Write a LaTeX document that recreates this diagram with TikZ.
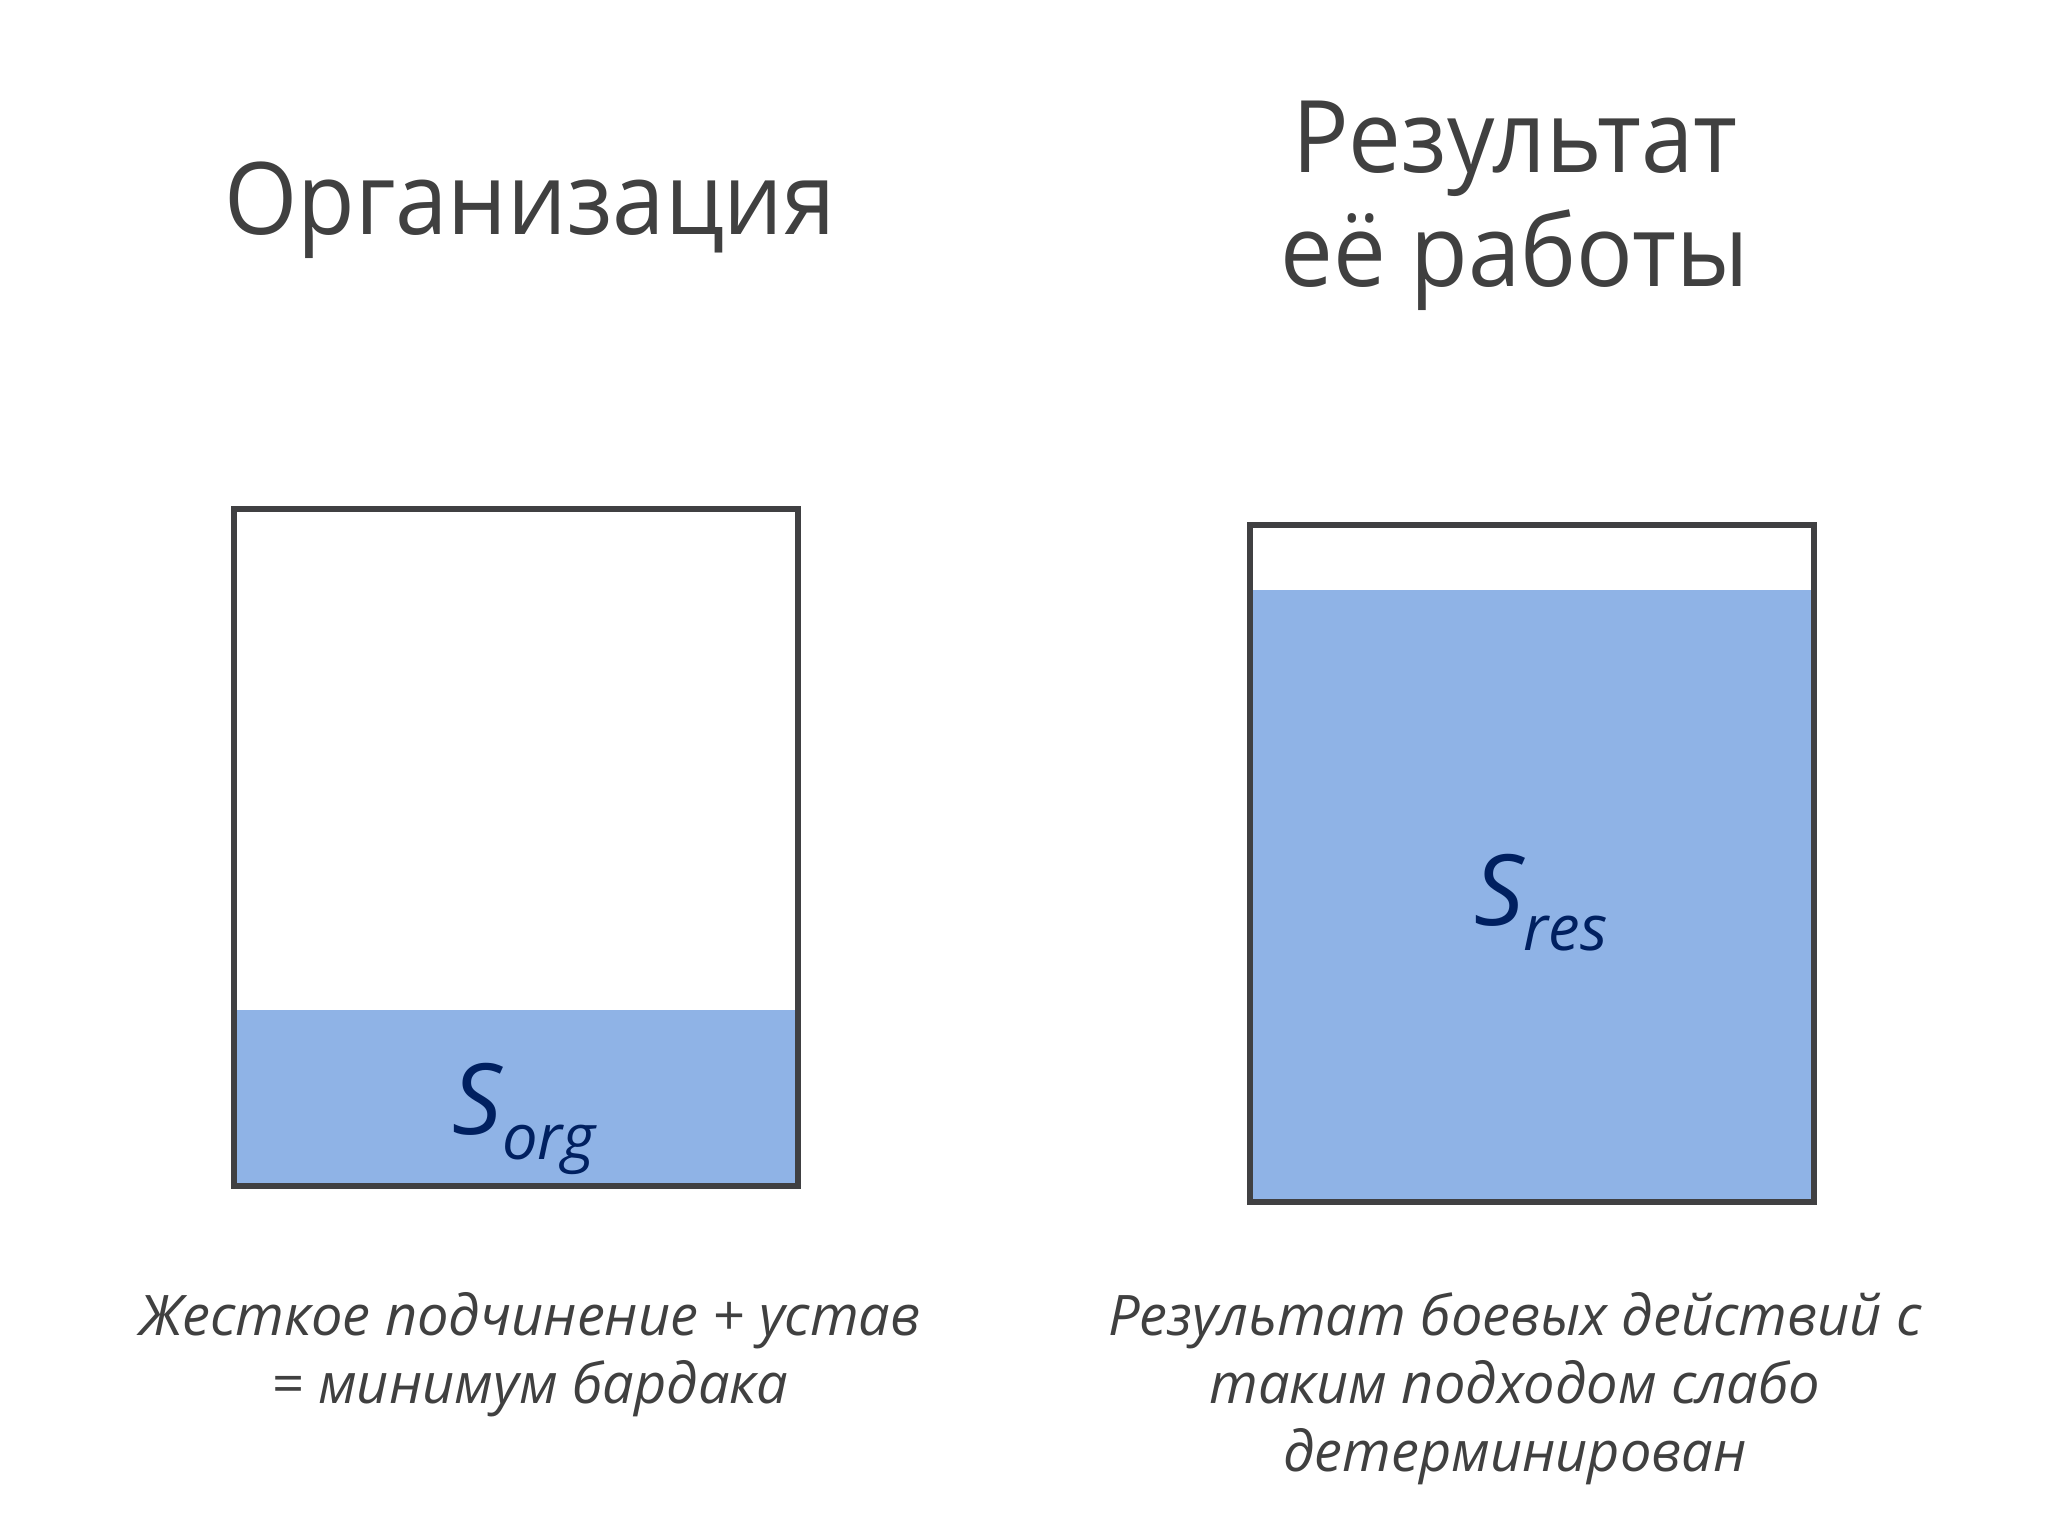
\documentclass[tikz,border=0pt]{standalone}
\usepackage{fontspec}
\setmainfont{Open Sans}
\newfontfamily\headingfont{Open Sans}[FakeStretch=0.94]
\usepackage{tikz}
\usetikzlibrary{calc,positioning}

\definecolor{textgray}{RGB}{64,64,64}
\definecolor{framegray}{RGB}{64,64,66}
\definecolor{levelblue}{RGB}{143,179,230}
\definecolor{labelnavy}{RGB}{0,32,96}

\begin{document}
\begin{tikzpicture}[
  thick,
  container/.style={
    rectangle,
    draw=framegray,
    line width=1.7pt,
    minimum height=67.7mm, minimum width=56.4mm,
    outer sep=0pt,
    inner sep=0pt
  },
  level/.style={
    rectangle,
    fill=levelblue,
    draw=none,
    minimum width=56.4mm,
    outer sep=0pt,
    inner sep=0pt
  },
  heading/.style={
    text=textgray,
    font=\headingfont\fontsize{28.5}{32.7}\selectfont,
    align=center,
    inner sep=0pt
  },
  caption/.style={
    text=textgray,
    font=\fontsize{15.9}{19.3}\selectfont\itshape,
    align=center,
    inner sep=0pt
  },
  measure/.style={
    text=labelnavy,
    font=\fontsize{28}{30}\selectfont\itshape,
    inner sep=0pt
  }
  ]
\useasboundingbox[fill=white] (0,0) rectangle (20.48,-15.36);
%\draw[help lines] (0,0) grid (20.48,-15.36);
% Organisation
\node [level, minimum height=17.6mm, anchor=south] (org level) at (5.16,-11.86) {};
\node [container] (org box) at (5.16,-8.475) {};
\node [measure, anchor=base] (org label) at (5.24,-11.34) {S{\fontsize{18}{20}\selectfont\raisebox{-0.25cm}{org}}};
\node [heading, anchor=base] (org title) at (5.30,-2.35) {Организация};
\node [caption, anchor=base] (org caption) at (5.30,-14.03) {Жесткое подчинение + устав\\= минимум бардака};
% Result
\node [level, minimum height=61.2mm, anchor=south] (res level) at (15.32,-12.02) {};
\node [container] (res box) at (15.32,-8.635) {};
\node [measure, anchor=base] (res label) at (15.41,-9.25) {S{\fontsize{18}{20}\selectfont\raisebox{-0.25cm}{res}}};
\node [heading, anchor=base] (res title) at (15.15,-2.87) {Результат\\её работы};
\node [caption, anchor=base] (res caption) at (15.15,-14.71) {Результат боевых действий с\\таким подходом слабо\\детерминирован};
\end{tikzpicture}
\end{document}
